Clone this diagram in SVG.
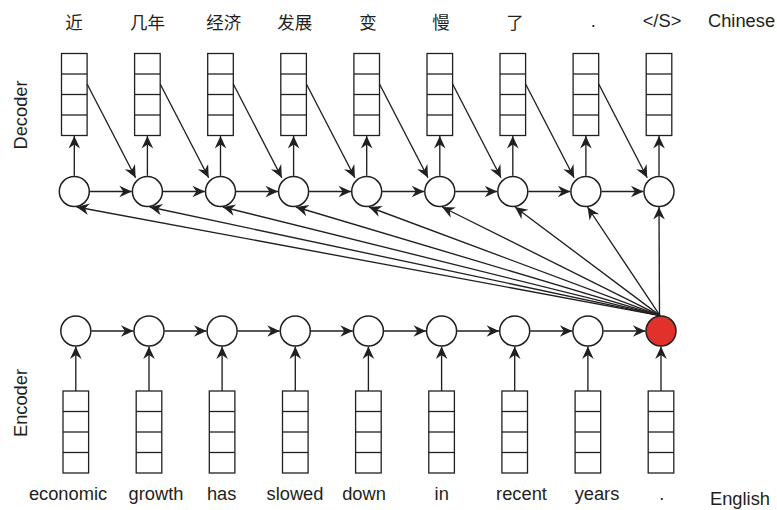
<svg xmlns="http://www.w3.org/2000/svg" width="777" height="510" viewBox="0 0 777 510">
<style>
.ln{stroke:#231f20;stroke-width:1.35;fill:none;marker-end:url(#ah)}
.cell{fill:#fff;stroke:#231f20;stroke-width:1.3}
.div{stroke:#231f20;stroke-width:1.3}
.c{fill:#fff;stroke:#231f20;stroke-width:1.5}
.red{fill:#e0322a;stroke:#231f20;stroke-width:1.5}
.t{font-family:"Liberation Sans",Arial,sans-serif;font-size:18.3px;fill:#231f20}
.m{text-anchor:middle}
.zh{font-family:"Noto Sans CJK SC","Liberation Sans",sans-serif;font-size:17.5px;fill:#231f20;text-anchor:middle}
</style>
<defs>
<marker id="ah" markerWidth="14" markerHeight="13" refX="13" refY="6.5" orient="auto" markerUnits="userSpaceOnUse" viewBox="0 0 14 13">
<path d="M13,6.5 L0.5,0.7 L4.5,6.5 L0.5,12.3 Z" fill="#231f20"/>
</marker>
<g id="vec">
<rect class="cell" x="-12.8" y="0" width="25.6" height="82"/>
<line class="div" x1="-12.8" y1="20.5" x2="12.8" y2="20.5"/>
<line class="div" x1="-12.8" y1="41" x2="12.8" y2="41"/>
<line class="div" x1="-12.8" y1="61.5" x2="12.8" y2="61.5"/>
</g>
</defs>
<rect width="777" height="510" fill="#fff"/>

<g id="labels">
<text class="t m" transform="translate(27,115) rotate(-90)">Decoder</text>
<text class="t m" transform="translate(27,403) rotate(-90)">Encoder</text>
<text class="t" x="708" y="26.5">Chinese</text>
<text class="t" x="710" y="505">English</text>
</g>

<g id="target-words">
<text class="zh" x="74" y="28.5">近</text>
<text class="zh" x="147.5" y="28.5">几年</text>
<text class="zh" x="223.8" y="28.5">经济</text>
<text class="zh" x="294.7" y="28.5">发展</text>
<text class="zh" x="368" y="28.5">变</text>
<text class="zh" x="441" y="28.5">慢</text>
<text class="zh" x="515" y="28.5">了</text>
<text class="t m" x="593.3" y="27">.</text>
<text class="t m" x="662" y="27">&lt;/S&gt;</text>
</g>

<g id="source-words">
<text class="t m" x="68" y="500">economic</text>
<text class="t m" x="156" y="500">growth</text>
<text class="t m" x="221.7" y="500">has</text>
<text class="t m" x="295" y="500">slowed</text>
<text class="t m" x="364" y="500">down</text>
<text class="t m" x="441.7" y="500">in</text>
<text class="t m" x="521.5" y="500">recent</text>
<text class="t m" x="597" y="500">years</text>
<text class="t m" x="661.7" y="500">.</text>
</g>

<g id="decoder-vectors">
<use id="dv0" href="#vec" x="74.3" y="53.5"/>
<use id="dv1" href="#vec" x="147.4" y="53.5"/>
<use id="dv2" href="#vec" x="220.5" y="53.5"/>
<use id="dv3" href="#vec" x="293.6" y="53.5"/>
<use id="dv4" href="#vec" x="366.7" y="53.5"/>
<use id="dv5" href="#vec" x="439.8" y="53.5"/>
<use id="dv6" href="#vec" x="512.8" y="53.5"/>
<use id="dv7" href="#vec" x="585.9" y="53.5"/>
<use id="dv8" href="#vec" x="659" y="53.5"/>
</g>

<g id="decoder-states">
<circle id="d0" class="c" cx="74.3" cy="191.5" r="15"/>
<circle id="d1" class="c" cx="147.4" cy="191.5" r="15"/>
<circle id="d2" class="c" cx="220.5" cy="191.5" r="15"/>
<circle id="d3" class="c" cx="293.6" cy="191.5" r="15"/>
<circle id="d4" class="c" cx="366.7" cy="191.5" r="15"/>
<circle id="d5" class="c" cx="439.8" cy="191.5" r="15"/>
<circle id="d6" class="c" cx="512.8" cy="191.5" r="15"/>
<circle id="d7" class="c" cx="585.9" cy="191.5" r="15"/>
<circle id="d8" class="c" cx="659" cy="191.5" r="15"/>
</g>

<g id="encoder-states">
<circle id="e0" class="c" cx="75.8" cy="331" r="15"/>
<circle id="e1" class="c" cx="149" cy="331" r="15"/>
<circle id="e2" class="c" cx="222.1" cy="331" r="15"/>
<circle id="e3" class="c" cx="295.3" cy="331" r="15"/>
<circle id="e4" class="c" cx="368.4" cy="331" r="15"/>
<circle id="e5" class="c" cx="441.6" cy="331" r="15"/>
<circle id="e6" class="c" cx="514.7" cy="331" r="15"/>
<circle id="e7" class="c" cx="587.9" cy="331" r="15"/>
<circle id="e8" class="red" cx="661" cy="331" r="15"/>
</g>

<g id="encoder-vectors">
<use id="ev0" href="#vec" x="75.8" y="391"/>
<use id="ev1" href="#vec" x="149" y="391"/>
<use id="ev2" href="#vec" x="222.1" y="391"/>
<use id="ev3" href="#vec" x="295.3" y="391"/>
<use id="ev4" href="#vec" x="368.4" y="391"/>
<use id="ev5" href="#vec" x="441.6" y="391"/>
<use id="ev6" href="#vec" x="514.7" y="391"/>
<use id="ev7" href="#vec" x="587.9" y="391"/>
<use id="ev8" href="#vec" x="661" y="391"/>
</g>

<g id="connectors">
<!-- encoder inputs -->
<line class="ln" x1="75.8" y1="391" x2="75.8" y2="346.6"/>
<line class="ln" x1="149" y1="391" x2="149" y2="346.6"/>
<line class="ln" x1="222.1" y1="391" x2="222.1" y2="346.6"/>
<line class="ln" x1="295.3" y1="391" x2="295.3" y2="346.6"/>
<line class="ln" x1="368.4" y1="391" x2="368.4" y2="346.6"/>
<line class="ln" x1="441.6" y1="391" x2="441.6" y2="346.6"/>
<line class="ln" x1="514.7" y1="391" x2="514.7" y2="346.6"/>
<line class="ln" x1="587.9" y1="391" x2="587.9" y2="346.6"/>
<line class="ln" x1="661" y1="391" x2="661" y2="346.6"/>
<!-- encoder recurrence -->
<line class="ln" x1="91.3" y1="331" x2="133.4" y2="331"/>
<line class="ln" x1="164.5" y1="331" x2="206.5" y2="331"/>
<line class="ln" x1="237.6" y1="331" x2="279.7" y2="331"/>
<line class="ln" x1="310.8" y1="331" x2="352.8" y2="331"/>
<line class="ln" x1="383.9" y1="331" x2="426" y2="331"/>
<line class="ln" x1="457.1" y1="331" x2="499.1" y2="331"/>
<line class="ln" x1="530.2" y1="331" x2="572.3" y2="331"/>
<line class="ln" x1="603.4" y1="331" x2="645.4" y2="331"/>
<!-- decoder outputs -->
<line class="ln" x1="74.3" y1="175.8" x2="74.3" y2="136"/>
<line class="ln" x1="147.4" y1="175.8" x2="147.4" y2="136"/>
<line class="ln" x1="220.5" y1="175.8" x2="220.5" y2="136"/>
<line class="ln" x1="293.6" y1="175.8" x2="293.6" y2="136"/>
<line class="ln" x1="366.7" y1="175.8" x2="366.7" y2="136"/>
<line class="ln" x1="439.8" y1="175.8" x2="439.8" y2="136"/>
<line class="ln" x1="512.8" y1="175.8" x2="512.8" y2="136"/>
<line class="ln" x1="585.9" y1="175.8" x2="585.9" y2="136"/>
<line class="ln" x1="659" y1="175.8" x2="659" y2="136"/>
<!-- decoder recurrence -->
<line class="ln" x1="89.8" y1="191.5" x2="131.8" y2="191.5"/>
<line class="ln" x1="162.9" y1="191.5" x2="204.9" y2="191.5"/>
<line class="ln" x1="236" y1="191.5" x2="278" y2="191.5"/>
<line class="ln" x1="309.1" y1="191.5" x2="351.1" y2="191.5"/>
<line class="ln" x1="382.2" y1="191.5" x2="424.2" y2="191.5"/>
<line class="ln" x1="455.3" y1="191.5" x2="497.2" y2="191.5"/>
<line class="ln" x1="528.3" y1="191.5" x2="570.3" y2="191.5"/>
<line class="ln" x1="601.4" y1="191.5" x2="643.4" y2="191.5"/>
<!-- previous output feeding -->
<line class="ln" x1="87.1" y1="84" x2="135.6" y2="177.8"/>
<line class="ln" x1="160.2" y1="84" x2="208.7" y2="177.8"/>
<line class="ln" x1="233.3" y1="84" x2="281.8" y2="177.8"/>
<line class="ln" x1="306.4" y1="84" x2="354.9" y2="177.8"/>
<line class="ln" x1="379.5" y1="84" x2="428" y2="177.8"/>
<line class="ln" x1="452.6" y1="84" x2="501" y2="177.8"/>
<line class="ln" x1="525.6" y1="84" x2="574.1" y2="177.8"/>
<line class="ln" x1="598.7" y1="84" x2="647.2" y2="177.8"/>
<!-- context vector -->
<line class="ln" x1="660" y1="315.6" x2="76.6" y2="207"/>
<line class="ln" x1="660" y1="315.6" x2="149.7" y2="207"/>
<line class="ln" x1="660" y1="315.6" x2="222.8" y2="207"/>
<line class="ln" x1="660" y1="315.6" x2="295.9" y2="207"/>
<line class="ln" x1="660" y1="315.6" x2="369" y2="207"/>
<line class="ln" x1="660" y1="315.6" x2="442.1" y2="207"/>
<line class="ln" x1="660" y1="315.6" x2="515" y2="207"/>
<line class="ln" x1="660" y1="315.6" x2="587.5" y2="207"/>
<line class="ln" x1="659.5" y1="315.6" x2="659" y2="207"/>
</g>
</svg>
